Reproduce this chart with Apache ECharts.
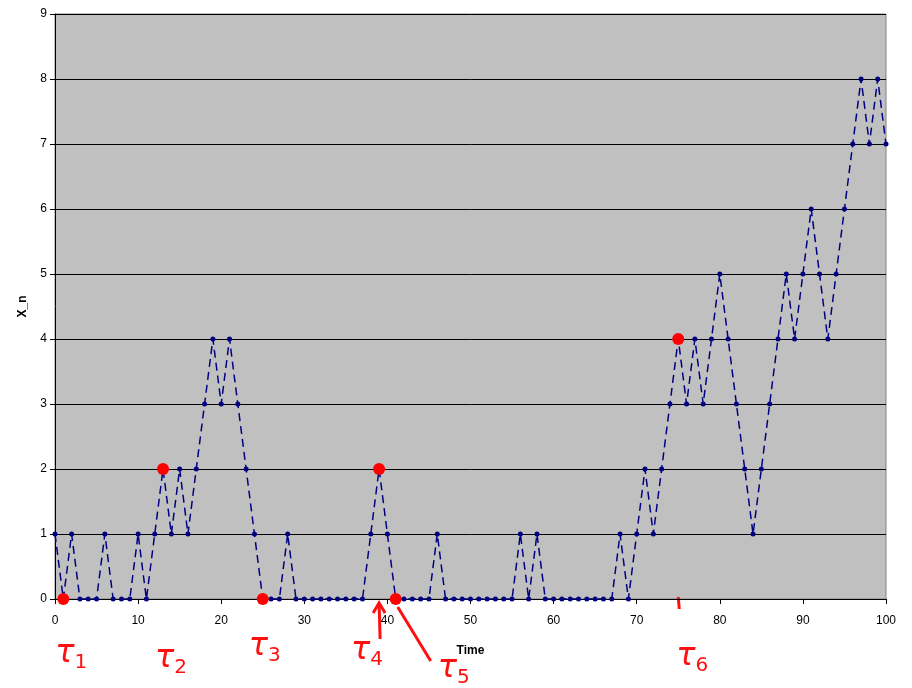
<!DOCTYPE html>
<html>
<head>
<meta charset="utf-8">
<script src="https://cdn.jsdelivr.net/npm/echarts@6/dist/echarts.min.js"></script>
<style>
  html, body { margin: 0; padding: 0; background: #fff; }
  #chart { width: 912px; height: 688px; }
</style>
</head>
<body>
<div id="chart"></div>
<script>
// walk values X_n for n = 0..100
var times = []
for (var i = 0; i <= 100; i++) times.push(i)
var xn = [
  1, 0, 1, 0, 0, 0, 1, 0, 0, 0,
  1, 0, 1, 2, 1, 2, 1, 2, 3, 4,
  3, 4, 3, 2, 1, 0, 0, 0, 1, 0,
  0, 0, 0, 0, 0, 0, 0, 0, 1, 2,
  1, 0, 0, 0, 0, 0, 1, 0, 0, 0,
  0, 0, 0, 0, 0, 0, 1, 0, 1, 0,
  0, 0, 0, 0, 0, 0, 0, 0, 1, 0,
  1, 2, 1, 2, 3, 4, 3, 4, 3, 4,
  5, 4, 3, 2, 1, 2, 3, 4, 5, 4,
  5, 6, 5, 4, 5, 6, 7, 8, 7, 8,
  7
]
// stopping times marked in red
var tauTimes = [1, 13, 25, 39, 41, 75]
var tauNames = ['1', '2', '3', '4', '5', '6']
var xTicks = [0, 10, 20, 30, 40, 50, 60, 70, 80, 90, 100]
var yTicks = [0, 1, 2, 3, 4, 5, 6, 7, 8, 9]

var chart = echarts.init(document.getElementById('chart'))
var font = '"Liberation Sans", Arial, sans-serif'

var option = {
  animation: false,
  grid: {
    left: 55, right: 26, top: 14, bottom: 89,
    show: true,
    backgroundColor: '#C0C0C0',
    borderColor: '#808080',
    borderWidth: 1
  },
  xAxis: {
    type: 'value',
    min: xTicks[0],
    max: xTicks[xTicks.length - 1],
    interval: 10,
    name: 'Time',
    nameLocation: 'middle',
    nameGap: 46,
    nameTextStyle: { fontFamily: font, fontWeight: 'bold', fontSize: 12, color: '#000' },
    axisLine: { lineStyle: { color: '#000', width: 1 } },
    axisTick: { show: true, length: 5, lineStyle: { color: '#000' } },
    axisLabel: { fontFamily: font, fontSize: 12, color: '#000', margin: 16 },
    splitLine: { show: false }
  },
  yAxis: {
    type: 'value',
    min: yTicks[0],
    max: yTicks[yTicks.length - 1],
    interval: 1,
    name: 'X_n',
    nameLocation: 'middle',
    nameRotate: 90,
    nameGap: 26,
    nameTextStyle: { fontFamily: font, fontWeight: 'bold', fontSize: 12, color: '#000' },
    axisLine: { show: true, lineStyle: { color: '#000', width: 1 } },
    axisTick: { show: true, length: 5, lineStyle: { color: '#000' } },
    axisLabel: { fontFamily: font, fontSize: 12, color: '#000', margin: 8 },
    splitLine: { show: true, lineStyle: { color: '#000', width: 1 } }
  },
  series: [
    {
      type: 'line',
      data: times.map(function(t, i) { return [t, xn[i]] }),
      symbol: 'circle',
      symbolSize: 5,
      lineStyle: { color: '#000080', width: 1.5, type: [8, 5] },
      itemStyle: { color: '#000080' },
      z: 2
    },
    {
      type: 'scatter',
      data: tauTimes.map(function(t) { return [t, xn[t]] }),
      symbol: 'circle',
      symbolSize: 12,
      itemStyle: { color: '#FF0000', opacity: 1 },
      z: 3
    }
  ]
}
chart.setOption(option)

// hand-written tau annotations under the axis
var labelOffsets = [[8, 55], [8, 60], [2, 48], [-12, 52], [58, 70], [14, 58]]
var graphics = []
tauTimes.forEach(function(t, k) {
  var p = chart.convertToPixel({ gridIndex: 0 }, [t, 0])
  graphics.push({
    type: 'text',
    x: p[0] + labelOffsets[k][0],
    y: p[1] + labelOffsets[k][1],
    style: {
      text: '{a|τ}{b|' + tauNames[k] + '}',
      align: 'center',
      verticalAlign: 'middle',
      rich: {
        a: { fontFamily: '"DejaVu Sans", sans-serif', fontSize: 32, fill: '#FF1010', fontStyle: 'italic' },
        b: { fontFamily: '"DejaVu Sans", sans-serif', fontSize: 20, fill: '#FF1010', padding: [18, 0, 0, 0] }
      }
    }
  })
})
// arrow for tau_4
var p4 = chart.convertToPixel({ gridIndex: 0 }, [39, 0])
graphics.push({
  type: 'polyline',
  shape: { points: [[p4[0] - 6, p4[1] + 14], [p4[0], p4[1] + 4], [p4[0] + 6, p4[1] + 14]] },
  style: { stroke: '#FF1010', lineWidth: 3, fill: null }
})
graphics.push({
  type: 'line',
  shape: { x1: p4[0], y1: p4[1] + 4, x2: p4[0] + 1, y2: p4[1] + 40 },
  style: { stroke: '#FF1010', lineWidth: 3 }
})
// pointer for tau_5
var p5 = chart.convertToPixel({ gridIndex: 0 }, [41, 0])
graphics.push({
  type: 'line',
  shape: { x1: p5[0] + 2, y1: p5[1] + 8, x2: p5[0] + 35, y2: p5[1] + 62 },
  style: { stroke: '#FF1010', lineWidth: 3 }
})
// small tick for tau_6
var p6 = chart.convertToPixel({ gridIndex: 0 }, [75, 0])
graphics.push({
  type: 'line',
  shape: { x1: p6[0], y1: p6[1] - 2, x2: p6[0] + 1, y2: p6[1] + 10 },
  style: { stroke: '#FF1010', lineWidth: 3 }
})
chart.setOption({ graphic: graphics })
</script>
</body>
</html>
